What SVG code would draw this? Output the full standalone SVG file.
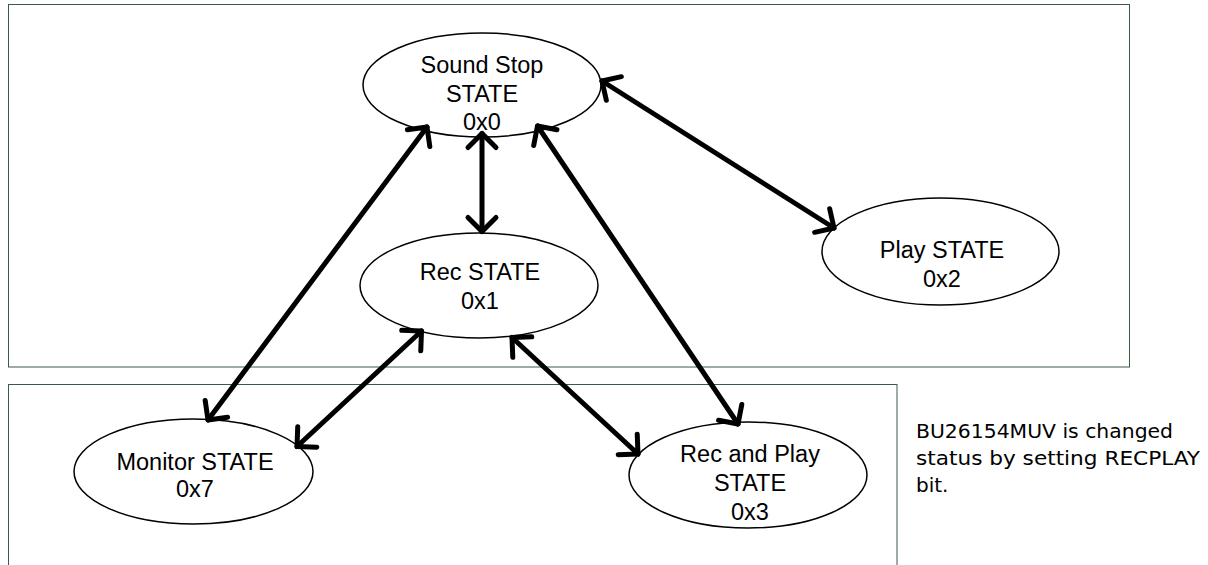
<svg xmlns="http://www.w3.org/2000/svg" width="1208" height="565" viewBox="0 0 1208 565">
<style>
.frame{fill:none;stroke:#385d45;stroke-width:1}
.node{fill:#fff;stroke:#000;stroke-width:1.5}
.lbl{font-family:"Liberation Sans",Arial,sans-serif;font-size:23.5px;fill:#000;text-anchor:middle}
.note{font-family:"DejaVu Sans",sans-serif;font-size:20px;fill:#000}
.conn{stroke:#000;stroke-width:5;fill:none;stroke-linecap:round;marker-start:url(#ah);marker-end:url(#ah)}
</style>
<defs>
<marker id="ah" markerUnits="userSpaceOnUse" viewBox="-22 -22 44 44" markerWidth="44" markerHeight="44" refX="0" refY="0" orient="auto-start-reverse">
<path d="M -14 -14 L 0 0 L -14 14" fill="none" stroke="#000" stroke-width="5" stroke-linecap="round" stroke-linejoin="round"/>
</marker>
</defs>
<rect width="1208" height="565" fill="#fff"/>
<g id="frames">
<rect class="frame" x="8.5" y="4.5" width="1121" height="362.5"/>
<rect class="frame" x="8.5" y="384.5" width="888.5" height="300"/>
</g>
<g id="n-soundstop">
<ellipse class="node" cx="482" cy="85" rx="119" ry="52"/>
<text class="lbl" x="482" y="73">Sound Stop</text>
<text class="lbl" x="482" y="102">STATE</text>
<text class="lbl" x="482" y="130">0x0</text>
</g>
<g id="n-rec">
<ellipse class="node" cx="479" cy="285.5" rx="119" ry="52.5"/>
<text class="lbl" x="480" y="280">Rec STATE</text>
<text class="lbl" x="480" y="309">0x1</text>
</g>
<g id="n-play">
<ellipse class="node" cx="940.5" cy="251.5" rx="118.5" ry="53.5"/>
<text class="lbl" x="942" y="258">Play STATE</text>
<text class="lbl" x="942" y="287">0x2</text>
</g>
<g id="n-monitor">
<ellipse class="node" cx="193.5" cy="471.5" rx="119.5" ry="52.5"/>
<text class="lbl" x="195" y="470">Monitor STATE</text>
<text class="lbl" x="195" y="497">0x7</text>
</g>
<g id="n-recplay">
<ellipse class="node" cx="748" cy="475" rx="119" ry="53"/>
<text class="lbl" x="750" y="462">Rec and Play</text>
<text class="lbl" x="750" y="491">STATE</text>
<text class="lbl" x="750" y="520">0x3</text>
</g>
<g id="connectors">
<line class="conn" x1="602" y1="81" x2="834" y2="228"/>
<line class="conn" x1="482" y1="133.5" x2="482" y2="231.5"/>
<line class="conn" x1="427" y1="127" x2="208" y2="420"/>
<line class="conn" x1="537.5" y1="126" x2="738" y2="424"/>
<line class="conn" x1="421.5" y1="331" x2="297" y2="446.5"/>
<line class="conn" x1="512" y1="337.5" x2="638" y2="454"/>
</g>
<g id="note">
<text class="note" x="916" y="438" textLength="257" lengthAdjust="spacingAndGlyphs">BU26154MUV is changed</text>
<text class="note" x="916" y="465" textLength="284" lengthAdjust="spacingAndGlyphs">status by setting RECPLAY</text>
<text class="note" x="916" y="492">bit.</text>
</g>
</svg>
